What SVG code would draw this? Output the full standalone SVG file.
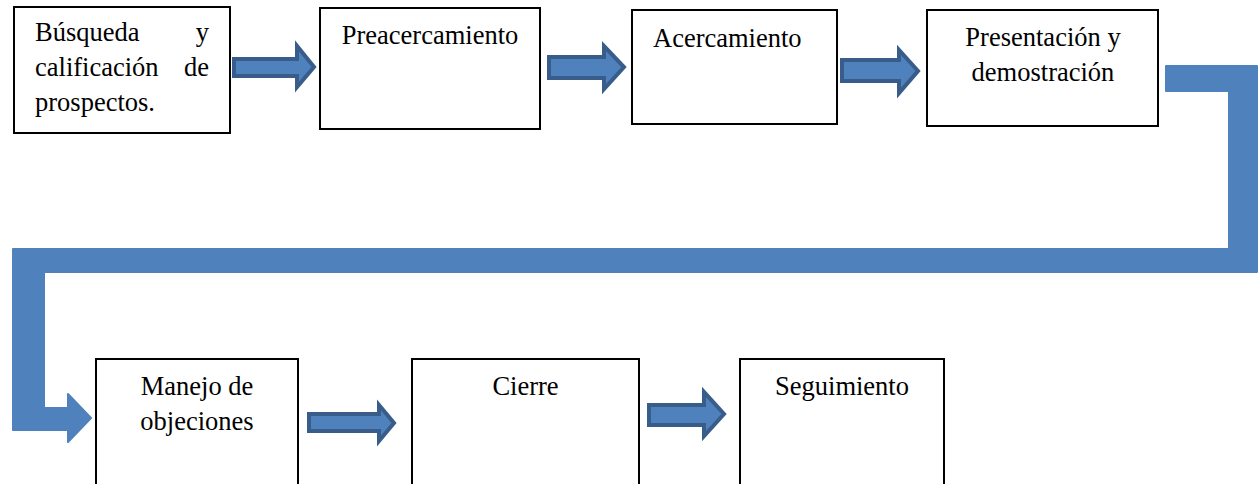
<svg xmlns="http://www.w3.org/2000/svg" width="1259" height="484" viewBox="0 0 1259 484">
<style>
.box{fill:#fff;stroke:#000;stroke-width:2}
.t{font-family:"Liberation Serif","Times New Roman",serif;font-size:26.5px;fill:#000}
.c{text-anchor:middle}
.e{text-anchor:end}
.arr{fill:#4F81BD;stroke:#385D8A;stroke-width:4;stroke-linejoin:miter}
.big{fill:#4F81BD;stroke:#4F81BD;stroke-width:2;stroke-linejoin:round}
</style>
<rect width="1259" height="484" fill="#fff"/>
<g id="connectors">
<path class="arr" d="M234,59 H297 V46 L314,67 L297,87 V76 H234 Z"/>
<path class="arr" d="M549,57 H604 V46 L624,67 L604,89 V78 H549 Z"/>
<path class="arr" d="M842,60 H899 V50 L918,71 L899,93 V81 H842 Z"/>
<path class="arr" d="M309,414 H379 V405 L394,423 L379,441 V431 H309 Z"/>
<path class="arr" d="M649,405 H704 V392 L724,414 L704,436 V425 H649 Z"/>
<path class="big" d="M1166,66 H1257 V272 H44 V408 H68 V394 L91,418 L68,442 V430 H13 V249 H1229 V91 H1166 Z"/>
</g>
<g id="n1">
<rect class="box" x="14" y="7" width="216" height="126"/>
<text class="t" x="35" y="41">Búsqueda</text>
<text class="t e" x="209" y="41">y</text>
<text class="t" x="35" y="76">calificación</text>
<text class="t e" x="209" y="76">de</text>
<text class="t" x="35" y="111">prospectos.</text>
</g>
<g id="n2">
<rect class="box" x="320" y="8" width="220" height="121"/>
<text class="t c" x="430" y="44">Preacercamiento</text>
</g>
<g id="n3">
<rect class="box" x="632" y="10" width="205" height="114"/>
<text class="t" x="653" y="47">Acercamiento</text>
</g>
<g id="n4">
<rect class="box" x="927" y="10" width="231" height="116"/>
<text class="t c" x="1043" y="46">Presentación y</text>
<text class="t c" x="1043" y="81">demostración</text>
</g>
<g id="n5">
<rect class="box" x="96" y="359" width="202" height="140"/>
<text class="t c" x="197" y="395">Manejo de</text>
<text class="t c" x="197" y="430">objeciones</text>
</g>
<g id="n6">
<rect class="box" x="412" y="359" width="227" height="140"/>
<text class="t c" x="525.5" y="395">Cierre</text>
</g>
<g id="n7">
<rect class="box" x="740" y="359" width="204" height="140"/>
<text class="t c" x="842" y="395">Seguimiento</text>
</g>
</svg>
